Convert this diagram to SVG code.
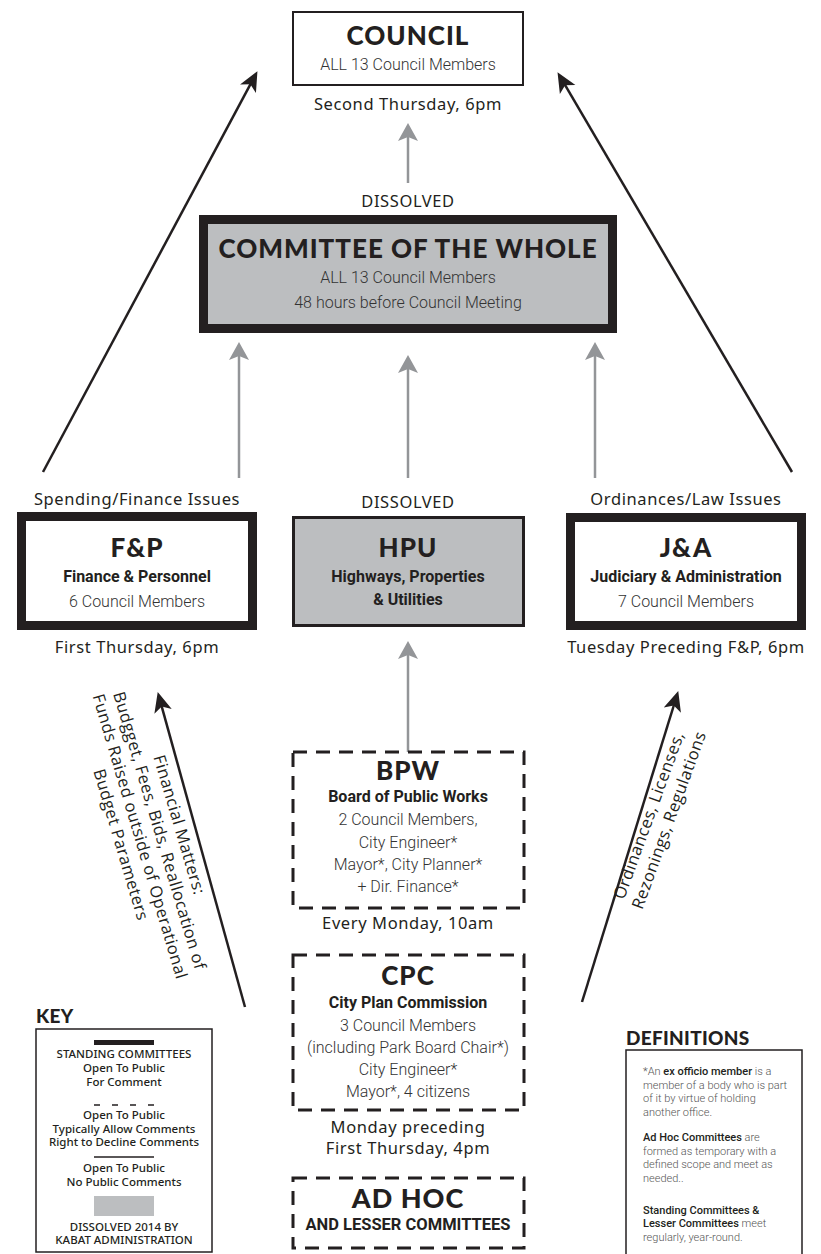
<svg xmlns="http://www.w3.org/2000/svg" width="821" height="1254" viewBox="0 0 821 1254">
<style>
text{font-family:"Noto Sans","Liberation Sans",sans-serif;fill:#231f20;text-anchor:middle}
.ttl{font-family:Lato,"Noto Sans",sans-serif;font-weight:900;font-size:26px;letter-spacing:1px}
.sub{font-family:Roboto,"Noto Sans",sans-serif;font-weight:700;font-size:16px}
.lt{font-family:Roboto,"Noto Sans",sans-serif;font-weight:300;font-size:16px;fill:#333}
.md{font-size:16.5px;font-weight:400;letter-spacing:0.6px}
.rot{font-family:"Open Sans","Noto Sans",sans-serif;font-size:16.5px;font-weight:400;letter-spacing:0.5px}
.key{font-size:11.5px;font-weight:500}
.hd{font-family:Lato,"Noto Sans",sans-serif;font-weight:900;font-size:19px;letter-spacing:0.3px;text-anchor:start}
.def{font-family:Roboto,"Noto Sans",sans-serif;font-weight:300;font-size:11px;fill:#555;text-anchor:start}
.def .b{font-weight:500;fill:#231f20}
.std{fill:#fff;stroke:#231f20;stroke-width:9}
.dis{fill:#bcbec0;stroke:#231f20}
.dash{fill:#fff;stroke:#231f20;stroke-width:3;stroke-dasharray:14 9}
.ga{stroke:#939598;stroke-width:2.5;fill:none;marker-end:url(#gh)}
.ba{stroke:#231f20;stroke-width:2.5;fill:none;marker-end:url(#bh)}
</style>
<defs>
<marker id="gh" markerUnits="userSpaceOnUse" viewBox="0 -11 19 22" markerWidth="19" markerHeight="22" refX="6" refY="0" orient="auto">
<path d="M0,-10 L18,0 L0,10 L4,0 Z" fill="#939598"/>
</marker>
<marker id="bh" markerUnits="userSpaceOnUse" viewBox="0 -10 21 20" markerWidth="21" markerHeight="20" refX="7" refY="0" orient="auto">
<path d="M0,-9 L20,0 L0,9 L5,0 Z" fill="#231f20"/>
</marker>
</defs>
<rect width="821" height="1254" fill="#fff"/>

<g id="connectors">
<line class="ga" x1="408" y1="183" x2="408" y2="135"/>
<line class="ga" x1="239" y1="478" x2="239" y2="354"/>
<line class="ga" x1="408" y1="478" x2="408" y2="367"/>
<line class="ga" x1="595" y1="478" x2="595" y2="354"/>
<line class="ga" x1="408" y1="752" x2="408" y2="653"/>
<line class="ba" x1="43" y1="472" x2="251.3" y2="82.6"/>
<line class="ba" x1="792" y1="472" x2="564.1" y2="83.4"/>
<line class="ba" x1="245" y1="1007" x2="161.2" y2="704.6"/>
<line class="ba" x1="582" y1="1002" x2="674.4" y2="703.5"/>
</g>

<g id="council">
<rect x="293" y="12" width="230" height="73" fill="#fff" stroke="#231f20" stroke-width="2"/>
<text class="ttl" x="408" y="45">COUNCIL</text>
<text class="lt" x="408" y="70">ALL 13 Council Members</text>
<text class="md" x="408" y="110">Second Thursday, 6pm</text>
</g>

<g id="cow">
<text class="md" x="408" y="207">DISSOLVED</text>
<rect class="dis" x="203.5" y="219.5" width="409" height="109" stroke-width="9"/>
<text class="ttl" x="408" y="258">COMMITTEE OF THE WHOLE</text>
<text class="lt" x="408" y="283">ALL 13 Council Members</text>
<text class="lt" x="408" y="308">48 hours before Council Meeting</text>
</g>

<g id="fp">
<text class="md" x="137" y="505">Spending/Finance Issues</text>
<rect class="std" x="21.5" y="516.5" width="231" height="109"/>
<text class="ttl" x="137" y="557">F&amp;P</text>
<text class="sub" x="137" y="582">Finance &amp; Personnel</text>
<text class="lt" x="137" y="607">6 Council Members</text>
<text class="md" x="137" y="653">First Thursday, 6pm</text>
</g>

<g id="hpu">
<text class="md" x="408" y="508">DISSOLVED</text>
<rect class="dis" x="293.5" y="517.5" width="230" height="108" stroke-width="3"/>
<text class="ttl" x="408" y="557">HPU</text>
<text class="sub" x="408" y="582">Highways, Properties</text>
<text class="sub" x="408" y="605">&amp; Utilities</text>
</g>

<g id="ja">
<text class="md" x="686" y="505">Ordinances/Law Issues</text>
<rect class="std" x="570.5" y="517.5" width="231" height="108"/>
<text class="ttl" x="686" y="557">J&amp;A</text>
<text class="sub" x="686" y="582">Judiciary &amp; Administration</text>
<text class="lt" x="686" y="607">7 Council Members</text>
<text class="md" x="686" y="653">Tuesday Preceding F&amp;P, 6pm</text>
</g>

<g id="bpw">
<rect class="dash" x="293" y="752" width="231" height="156"/>
<text class="ttl" x="408" y="780">BPW</text>
<text class="sub" x="408" y="802">Board of Public Works</text>
<text class="lt" x="408" y="825">2 Council Members,</text>
<text class="lt" x="408" y="848">City Engineer*</text>
<text class="lt" x="408" y="870">Mayor*, City Planner*</text>
<text class="lt" x="408" y="892">+ Dir. Finance*</text>
<text class="md" x="408" y="929">Every Monday, 10am</text>
</g>

<g id="cpc">
<rect class="dash" x="293" y="955" width="231" height="155"/>
<text class="ttl" x="408" y="985">CPC</text>
<text class="sub" x="408" y="1008">City Plan Commission</text>
<text class="lt" x="408" y="1031">3 Council Members</text>
<text class="lt" x="408" y="1053">(including Park Board Chair*)</text>
<text class="lt" x="408" y="1075">City Engineer*</text>
<text class="lt" x="408" y="1097">Mayor*, 4 citizens</text>
<text class="md" x="408" y="1133">Monday preceding</text>
<text class="md" x="408" y="1154">First Thursday, 4pm</text>
</g>

<g id="adhoc">
<rect class="dash" x="293" y="1178" width="231" height="70"/>
<text class="ttl" x="408" y="1208" style="font-size:27px">AD HOC</text>
<text class="sub" x="408" y="1230" style="font-size:16.5px">AND LESSER COMMITTEES</text>
</g>

<g id="label-financial">
<text class="rot" transform="translate(174.5,828.8) rotate(73.5)">
<tspan x="0" y="0">Financial Matters:</tspan>
<tspan x="0" y="20.5">Budgget, Fees, Bids, Reallocation of</tspan>
<tspan x="0" y="41">Funds Raised outside of Operational</tspan>
<tspan x="0" y="61.5">Budget Parameters</tspan>
</text>
</g>

<g id="label-ordinances">
<text class="rot" transform="translate(655,815) rotate(-70)">
<tspan x="0" y="0">Ordinances, Licenses,</tspan>
<tspan x="0" y="20.5">Rezonings, Regulations</tspan>
</text>
</g>

<g id="key">
<text class="hd" x="36" y="1023">KEY</text>
<rect x="36" y="1029" width="176" height="223" fill="#fff" stroke="#231f20" stroke-width="1.5"/>
<rect x="94" y="1040" width="60" height="5" fill="#231f20"/>
<text class="key" x="124" y="1058">STANDING COMMITTEES</text>
<text class="key" x="124" y="1072">Open To Public</text>
<text class="key" x="124" y="1086">For Comment</text>
<line x1="94" y1="1105" x2="154" y2="1105" stroke="#231f20" stroke-width="1.3" stroke-dasharray="6 12"/>
<text class="key" x="124" y="1119">Open To Public</text>
<text class="key" x="124" y="1133">Typically Allow Comments</text>
<text class="key" x="124" y="1146">Right to Decline Comments</text>
<line x1="94" y1="1157" x2="154" y2="1157" stroke="#231f20" stroke-width="1.3"/>
<text class="key" x="124" y="1172">Open To Public</text>
<text class="key" x="124" y="1186">No Public Comments</text>
<rect x="94" y="1196" width="60" height="20" fill="#bcbec0"/>
<text class="key" x="124" y="1231">DISSOLVED 2014 BY</text>
<text class="key" x="124" y="1244">KABAT ADMINISTRATION</text>
</g>

<g id="definitions">
<text class="hd" x="626" y="1045">DEFINITIONS</text>
<rect x="626" y="1050" width="176" height="215" fill="#fff" stroke="#231f20" stroke-width="1.5"/>
<text class="def" x="643" y="1075">*An <tspan class="b">ex officio member</tspan> is a</text>
<text class="def" x="643" y="1089">member of a body who is part</text>
<text class="def" x="643" y="1102">of it by virtue of holding</text>
<text class="def" x="643" y="1116">another office.</text>
<text class="def" x="643" y="1141"><tspan class="b">Ad Hoc Committees</tspan> are</text>
<text class="def" x="643" y="1155">formed as temporary with a</text>
<text class="def" x="643" y="1168">defined scope and meet as</text>
<text class="def" x="643" y="1182">needed..</text>
<text class="def" x="643" y="1214"><tspan class="b">Standing Committees &amp;</tspan></text>
<text class="def" x="643" y="1227"><tspan class="b">Lesser Committees</tspan> meet</text>
<text class="def" x="643" y="1241">regularly, year-round.</text>
</g>
</svg>
